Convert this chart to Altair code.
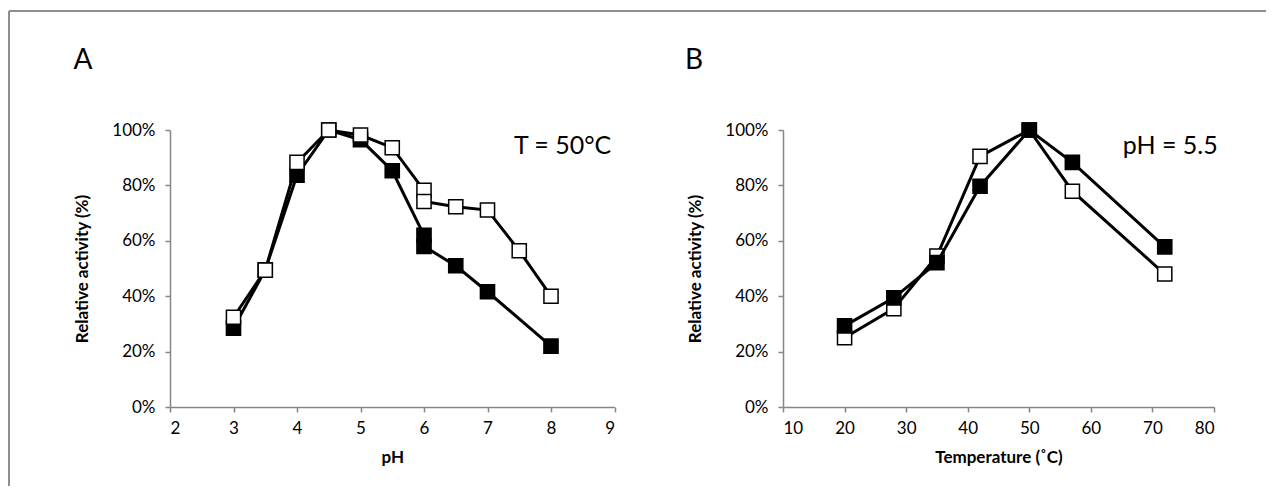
import altair as alt
import pandas as pd

# ---- Panel A: pH profile at T = 50°C ----
ph_filled_x = [3, 3.5, 4, 4.5, 5, 5.5, 6, 6, 6.5, 7, 8]
ph_filled_y = [28.5, 49.5, 83.7, 100, 96.5, 85.3, 62.0, 58.0, 51.0, 41.6, 22.0]
ph_open_x = [3, 3.5, 4, 4.5, 5, 5.5, 6, 6, 6.5, 7, 7.5, 8]
ph_open_y = [32.4, 49.4, 88.3, 100, 98.2, 93.6, 78.2, 74.2, 72.3, 71.1, 56.4, 40.0]

# ---- Panel B: temperature profile at pH = 5.5 ----
t_x = [20, 28, 35, 42, 50, 57, 72]
t_filled_y = [29.3, 39.4, 52.1, 79.7, 100, 88.3, 57.8]
t_open_y = [25.0, 35.5, 54.5, 90.5, 100, 77.9, 48.0]

ph_ticks = [2, 3, 4, 5, 6, 7, 8, 9]
t_ticks = [10, 20, 30, 40, 50, 60, 70, 80]
y_ticks = [0, 0.2, 0.4, 0.6, 0.8, 1.0]

# annotation texts, anchored in data units of each panel
labels_A = {"letter": ("A", 0.48, 1.222), "cond": ("T = 50°C", 8.95, 0.942)}
labels_B = {"letter": ("B", -5.9, 1.222), "cond": ("pH = 5.5", 80.6, 0.942)}

FONT = "Lato"


def frame(xs, ys):
    return pd.DataFrame({"x": xs, "y": [v / 100 for v in ys], "i": list(range(len(xs)))})


def series(df, xscale, xaxis, yscale, yaxis, fill):
    base = alt.Chart(df)
    enc = dict(
        x=alt.X("x:Q", scale=xscale, axis=xaxis),
        y=alt.Y("y:Q", scale=yscale, axis=yaxis),
        order=alt.Order("i:Q"),
    )
    line = base.mark_line(color="black", strokeWidth=3).encode(**enc)
    pts = base.mark_point(shape="square", size=200, filled=True, fill=fill,
                          stroke="black", strokeWidth=1.5, opacity=1).encode(**enc)
    return line, pts


def texts(lab, xscale, yscale):
    t, x, y = lab["letter"]
    letter = alt.Chart(pd.DataFrame({"x": [x], "y": [y], "t": [t]})).mark_text(
        align="left", baseline="alphabetic", font=FONT, fontSize=28, color="black"
    ).encode(x=alt.X("x:Q", scale=xscale), y=alt.Y("y:Q", scale=yscale), text="t:N")
    t, x, y = lab["cond"]
    cond = alt.Chart(pd.DataFrame({"x": [x], "y": [y], "t": [t]})).mark_text(
        align="right", baseline="middle", font=FONT, fontSize=25, color="black"
    ).encode(x=alt.X("x:Q", scale=xscale), y=alt.Y("y:Q", scale=yscale), text="t:N")
    return letter, cond


yscale = alt.Scale(domain=[0, 1], nice=False, zero=True)
yaxis = alt.Axis(title="Relative activity (%)", values=y_ticks, format=".0%",
                 labelPadding=10, titlePadding=20)

# figure border (left and top edges of the framed figure)
border_src = pd.DataFrame({"k": [0]})
border_left = alt.Chart(border_src).mark_rule(color="#8f8f8f", strokeWidth=2).encode(
    x=alt.value(-161), y=alt.value(-119), y2=alt.value(356))
border_top = alt.Chart(border_src).mark_rule(color="#8f8f8f", strokeWidth=2).encode(
    y=alt.value(-119), x=alt.value(-161), x2=alt.value(1096))

# Panel A
xsA = alt.Scale(domain=[2, 9], nice=False, zero=False)
xaA = alt.Axis(title="pH", values=ph_ticks, format="d", labelPadding=8.5, titlePadding=12.5)
fA_line, fA_pts = series(frame(ph_filled_x, ph_filled_y), xsA, xaA, yscale, yaxis, "black")
oA_line, oA_pts = series(frame(ph_open_x, ph_open_y), xsA, xaA, yscale, yaxis, "white")
letA, annA = texts(labels_A, xsA, yscale)

panelA = alt.layer(border_left, border_top, fA_line, fA_pts, oA_line, oA_pts,
                   annA, letA).properties(width=444.5, height=277)

# Panel B
xsB = alt.Scale(domain=[10, 80], nice=False, zero=False)
xaB = alt.Axis(title="Temperature (˚C)", values=t_ticks, format="d", labelPadding=8.5, titlePadding=12.5)
oB_line, oB_pts = series(frame(t_x, t_open_y), xsB, xaB, yscale, yaxis, "white")
fB_line, fB_pts = series(frame(t_x, t_filled_y), xsB, xaB, yscale, yaxis, "black")
letB, annB = texts(labels_B, xsB, yscale)

panelB = alt.layer(oB_line, oB_pts, fB_line, fB_pts, annB, letB).properties(
    width=431, height=277)

chart = alt.hconcat(panelA, panelB, spacing=168, bounds="flush").properties(
    padding={"left": 0, "top": 2, "right": 0, "bottom": 0},
    background="white",
).configure_view(stroke=None).configure_axis(
    grid=False,
    domainColor="#868686", domainWidth=1.5,
    tickColor="#868686", tickWidth=1.5, tickSize=5,
    labelFont=FONT, labelFontSize=17, labelColor="black",
    titleFont=FONT, titleFontSize=17, titleFontWeight="bold", titleColor="black",
)

chart.save("out.html", embed_options={"renderer": "svg", "actions": False})
